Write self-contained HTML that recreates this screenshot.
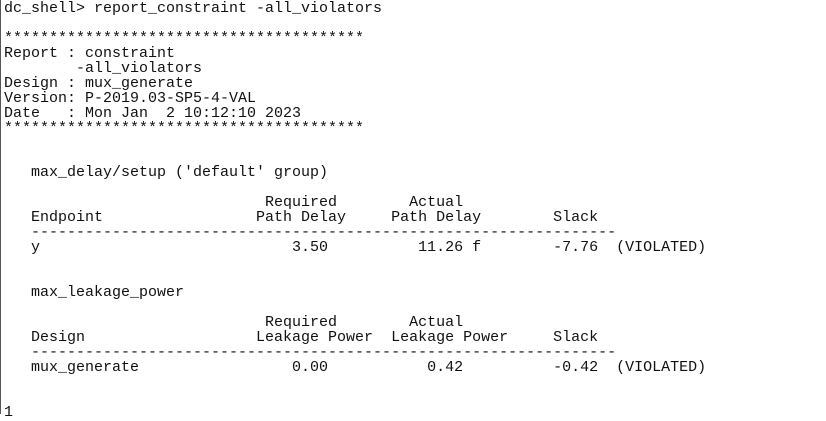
<!DOCTYPE html>
<html><head><meta charset="utf-8"><style>
html,body{margin:0;padding:0;width:826px;height:414px;background:#fff;overflow:hidden}
#term{position:absolute;left:0;top:0;width:825px;height:414px;border-left:1px solid #555}
pre{margin:0;position:absolute;left:3px;top:2px;font-family:"Liberation Mono",monospace;font-size:15px;line-height:14.95px;color:#111;}
</style></head><body>
<div id="term">
<pre>dc_shell&gt; report_constraint -all_violators

****************************************
Report : constraint
        -all_violators
Design : mux_generate
Version: P-2019.03-SP5-4-VAL
Date   : Mon Jan  2 10:12:10 2023
****************************************


   max_delay/setup ('default' group)

                             Required        Actual
   Endpoint                 Path Delay     Path Delay        Slack
   -----------------------------------------------------------------
   y                            3.50          11.26 f        -7.76  (VIOLATED)


   max_leakage_power

                             Required        Actual
   Design                   Leakage Power  Leakage Power     Slack
   -----------------------------------------------------------------
   mux_generate                 0.00           0.42          -0.42  (VIOLATED)


1</pre>
</div>
</body></html>
